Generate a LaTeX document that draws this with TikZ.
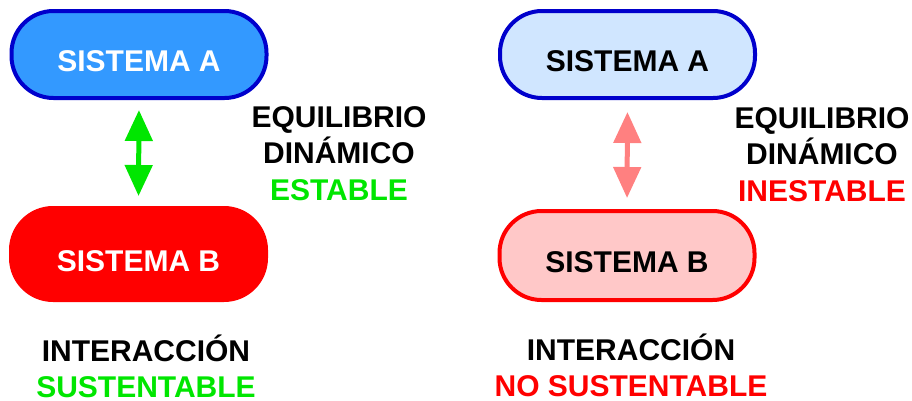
\documentclass[tikz,border=0pt]{standalone}
\usepackage{fontspec}
\setmainfont{Liberation Sans}
\usetikzlibrary{arrows.meta}
\definecolor{sysblue}{RGB}{51,153,255}
\definecolor{edgeblue}{RGB}{0,0,204}
\definecolor{paleblue}{RGB}{208,230,255}
\definecolor{palered}{RGB}{255,200,200}
\definecolor{okgreen}{RGB}{0,230,0}
\definecolor{softred}{RGB}{255,128,128}
\begin{document}
\begin{tikzpicture}[x=1pt, y=-1pt,
  sysbox/.style={rectangle, rounded corners=42pt, line width=4pt, minimum width=255pt, minimum height=87pt,
    text height=34pt, text depth=0pt, font=\fontsize{30}{36}\selectfont\bfseries},
  lbl/.style={align=center, anchor=base, font=\fontsize{30}{36.5}\selectfont\bfseries},
  link/.style={{Triangle[width=27pt,length=31pt]}-{Triangle[width=27pt,length=31pt]}, line width=5pt}]
\useasboundingbox (0,0) rectangle (912,400);
% stable case
\node[sysbox, fill=sysblue, draw=edgeblue, text=white] (aleft) at (139,54.5) {SISTEMA A};
\node[sysbox, fill=red, draw=red, text=white, minimum height=92pt] (bleft) at (138.5,254) {SISTEMA B};
\draw[link, okgreen, shorten <=10pt, shorten >=10pt] (aleft.south) -- (bleft.north);
\node[lbl] (eqleft) at (339,200) {EQUILIBRIO\\DINÁMICO\\\textcolor{okgreen}{ESTABLE}};
\node[lbl] (intleft) at (146,397.5) {INTERACCIÓN\\\textcolor{okgreen}{SUSTENTABLE}};
% unstable case
\node[sysbox, fill=paleblue, draw=edgeblue] (aright) at (627.5,54.5) {SISTEMA A};
\node[sysbox, fill=palered, draw=red, minimum height=89pt] (bright) at (627,255.5) {SISTEMA B};
\draw[link, softred, shorten <=12pt, shorten >=11pt] (aright.south) -- (bright.north);
\node[lbl] (eqright) at (822,201) {EQUILIBRIO\\DINÁMICO\\\textcolor{red}{INESTABLE}};
\node[lbl] (intright) at (631,396.5) {INTERACCIÓN\\\textcolor{red}{NO SUSTENTABLE}};
\end{tikzpicture}
\end{document}
